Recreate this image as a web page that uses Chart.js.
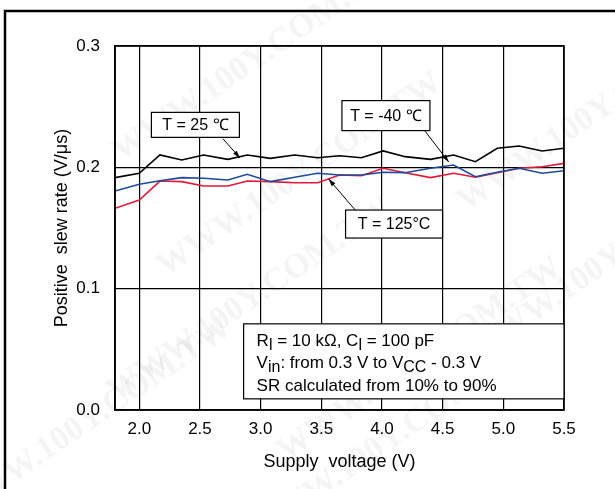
<!DOCTYPE html>
<html>
<head>
<meta charset="utf-8">
<script src="https://cdn.jsdelivr.net/npm/chart.js@4.4.1/dist/chart.umd.min.js"></script>
<style>
  html, body { margin: 0; padding: 0; background: #fff; }
  #wrap { width: 615px; height: 489px; position: relative; }
</style>
</head>
<body>
<div id="wrap"><canvas id="myChart"></canvas></div>
<script>
// supply voltage (V) at each measured point
var voltages = [1.8, 2.0, 2.17, 2.35, 2.53, 2.73, 2.89, 3.08, 3.28, 3.47, 3.65, 3.83, 4.01, 4.19, 4.4, 4.59, 4.77, 4.95, 5.13, 5.32, 5.5];
// positive slew rate (V/us)
var sr25 = [0.1915, 0.1951, 0.2102, 0.2060, 0.2102, 0.2066, 0.2102, 0.2074, 0.2102, 0.2079, 0.2096, 0.2079, 0.2135, 0.2088, 0.2066, 0.2102, 0.2046, 0.2157, 0.2176, 0.2135, 0.2157];
var srM40 = [0.1805, 0.1860, 0.1890, 0.1915, 0.1910, 0.1896, 0.1943, 0.1882, 0.1918, 0.1951, 0.1937, 0.1937, 0.1959, 0.1956, 0.1992, 0.2019, 0.1923, 0.1959, 0.1992, 0.1951, 0.1972];
var sr125 = [0.1662, 0.1731, 0.1887, 0.1882, 0.1846, 0.1846, 0.1887, 0.1882, 0.1873, 0.1873, 0.1937, 0.1931, 0.1992, 0.1956, 0.1915, 0.1951, 0.1918, 0.1956, 0.1992, 0.2005, 0.2033];

var xTicks = [2.0, 2.5, 3.0, 3.5, 4.0, 4.5, 5.0, 5.5];
var yTicks = [0.0, 0.1, 0.2, 0.3];

var FONT = "'Liberation Sans', Arial, Helvetica, sans-serif";

function pts(vals) {
    return vals.map(function (v, i) { return { x: voltages[i], y: v }; });
}

// label boxes: text, box corner in data units, arrow tail/tip in data units
var tempLabels = [
    { text: 'T = 25 \u2103', bx: 2.1, by: 0.2453, w: 88, h: 25, tail: [2.69, 0.2235], tip: [2.83, 0.2077] },
    { text: 'T = -40 \u2103', bx: 3.67, by: 0.2550, w: 88, h: 30, tail: [4.35, 0.2305], tip: [4.55, 0.2044] },
    { text: 'T = 125\u00b0C', bx: 3.70, by: 0.1648, w: 97, h: 28, tail: [3.78, 0.1648], tip: [3.56, 0.1904] }
];

var framePlugin = {
    id: 'frame',
    beforeDraw: function (chart) {
        var ctx = chart.ctx;
        ctx.save();
        ctx.fillStyle = '#fff';
        ctx.fillRect(0, 0, chart.width, chart.height);
        // faint watermark
        ctx.fillStyle = 'rgba(0,0,0,0.045)';
        ctx.font = 'bold 34px "Liberation Serif", "Times New Roman", serif';
        ctx.textAlign = 'center';
        ctx.textBaseline = 'middle';
        [[255, 60], [300, 175], [250, 300], [420, 360], [390, 440], [600, 110], [610, 260], [90, 420]].forEach(function (p) {
            ctx.save();
            ctx.translate(p[0], p[1]);
            ctx.rotate(-0.6);
            ctx.fillText('WWW.100Y.COM.TW', 0, 0);
            ctx.restore();
        });
        // outer frame
        ctx.strokeStyle = '#000';
        ctx.lineWidth = 2.5;
        ctx.beginPath();
        ctx.moveTo(5, chart.height + 5);
        ctx.lineTo(5, 11);
        ctx.lineTo(chart.width + 5, 11);
        ctx.stroke();
        ctx.restore();
    },
    afterDraw: function (chart) {
        var ctx = chart.ctx;
        var xs = chart.scales.x, ys = chart.scales.y;
        var a = chart.chartArea;
        ctx.save();
        ctx.strokeStyle = '#000';
        ctx.lineWidth = 1.6;
        ctx.strokeRect(a.left, a.top, a.right - a.left, a.bottom - a.top);

        // temperature labels with arrows
        ctx.font = '16px ' + FONT;
        ctx.textBaseline = 'middle';
        ctx.textAlign = 'center';
        tempLabels.forEach(function (l) {
            var x = xs.getPixelForValue(l.bx), y = ys.getPixelForValue(l.by);
            var tx = xs.getPixelForValue(l.tail[0]), ty = ys.getPixelForValue(l.tail[1]);
            var px = xs.getPixelForValue(l.tip[0]), py = ys.getPixelForValue(l.tip[1]);
            ctx.strokeStyle = '#000';
            ctx.lineWidth = 1;
            ctx.beginPath();
            ctx.moveTo(tx, ty);
            ctx.lineTo(px, py);
            ctx.stroke();
            var ang = Math.atan2(py - ty, px - tx);
            ctx.fillStyle = '#000';
            ctx.beginPath();
            ctx.moveTo(px, py);
            ctx.lineTo(px - 8 * Math.cos(ang - 0.3), py - 8 * Math.sin(ang - 0.3));
            ctx.lineTo(px - 8 * Math.cos(ang + 0.3), py - 8 * Math.sin(ang + 0.3));
            ctx.closePath();
            ctx.fill();
            ctx.fillStyle = '#fff';
            ctx.fillRect(x, y, l.w, l.h);
            ctx.lineWidth = 1.2;
            ctx.strokeRect(x, y, l.w, l.h);
            ctx.fillStyle = '#000';
            ctx.fillText(l.text, x + l.w / 2, y + l.h / 2 + 1);
        });

        // test conditions box
        var bx = xs.getPixelForValue(3.0) - 17, by = ys.getPixelForValue(0.071);
        var bw = a.right - bx, bh = 75;
        ctx.fillStyle = '#fff';
        ctx.fillRect(bx, by, bw, bh);
        ctx.lineWidth = 1.2;
        ctx.strokeRect(bx, by, bw, bh);
        ctx.fillStyle = '#000';
        ctx.textAlign = 'left';
        ctx.textBaseline = 'alphabetic';
        var lines = [
            [['R', 0], ['l', 1], [' = 10 k\u03a9, C', 0], ['l', 1], [' = 100 pF', 0]],
            [['V', 0], ['in', 1], [': from 0.3 V to V', 0], ['CC', 1], [' - 0.3 V', 0]],
            [['SR calculated from 10% to 90%', 0]]
        ];
        var base = [by + 22, by + 44, by + 67];
        lines.forEach(function (parts, i) {
            var cx = bx + 13;
            parts.forEach(function (p) {
                ctx.font = (p[1] ? '16px ' : '17px ') + FONT;
                ctx.fillText(p[0], cx, base[i] + (p[1] ? 4 : 0));
                cx += ctx.measureText(p[0]).width;
            });
        });
        ctx.restore();
    }
};

var ctx = document.getElementById('myChart').getContext('2d');
var myChart = new Chart(ctx, {
    type: 'line',
    data: {
        datasets: [
            { label: 'T = 25 \u2103', data: pts(sr25), borderColor: '#000000', borderWidth: 1.6 },
            { label: 'T = -40 \u2103', data: pts(srM40), borderColor: '#1d4b9b', borderWidth: 1.6 },
            { label: 'T = 125\u00b0C', data: pts(sr125), borderColor: '#e5173b', borderWidth: 1.6 }
        ]
    },
    options: {
        responsive: true,
        maintainAspectRatio: false,
        animation: false,
        layout: { padding: { left: 0, top: 46, right: 51, bottom: 0 } },
        elements: { point: { radius: 0 }, line: { tension: 0 } },
        plugins: {
            legend: { display: false },
            tooltip: { enabled: false }
        },
        scales: {
            x: {
                type: 'linear',
                min: 1.8,
                max: 5.5,
                afterBuildTicks: function (scale) {
                    scale.ticks = xTicks.map(function (v) { return { value: v }; });
                },
                afterFit: function (scale) { scale.height = 79; },
                grid: { color: '#000', lineWidth: 1.2, drawTicks: false },
                border: { color: '#000', width: 1.6 },
                ticks: {
                    padding: 9,
                    color: '#000',
                    font: { family: FONT, size: 17 },
                    callback: function (v) { return Number(v).toFixed(1); }
                },
                title: {
                    display: true,
                    text: 'Supply  voltage (V)',
                    color: '#000',
                    font: { family: FONT, size: 18 },
                    padding: { top: 0, bottom: 16 }
                }
            },
            y: {
                min: 0,
                max: 0.3,
                afterBuildTicks: function (scale) {
                    scale.ticks = yTicks.map(function (v) { return { value: v }; });
                },
                afterFit: function (scale) { scale.width = 115; },
                grid: { color: '#000', lineWidth: 1.2, drawTicks: false },
                border: { color: '#000', width: 1.6 },
                ticks: {
                    padding: 15,
                    color: '#000',
                    font: { family: FONT, size: 17 },
                    callback: function (v) { return Number(v).toFixed(1); }
                },
                title: {
                    display: true,
                    text: 'Positive  slew rate (V/\u03bcs)',
                    color: '#000',
                    font: { family: FONT, size: 18 },
                    padding: { top: 51, bottom: 0 }
                }
            }
        }
    },
    plugins: [framePlugin]
});
</script>
</body>
</html>
